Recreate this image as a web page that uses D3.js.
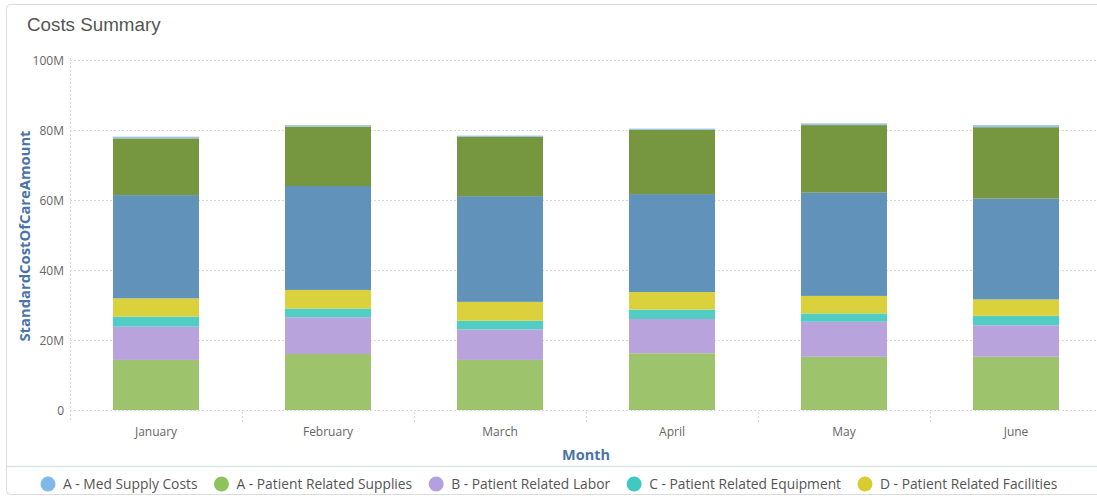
<!DOCTYPE html>
<html>
<head>
<meta charset="utf-8">
<script src="https://cdn.jsdelivr.net/npm/d3@7"></script>
<style>
  html, body { margin: 0; padding: 0; background: #fff; }
  svg { display: block; }
</style>
</head>
<body>
<svg id="chart" width="1097" height="498"></svg>
<script>
// ---- Data (values in millions) ----
const months = ["January", "February", "March", "April", "May", "June"];
const patientRelatedSupplies = [14.3, 16.0, 14.3, 16.2, 15.2, 15.2];
const patientRelatedLabor    = [9.5, 10.5, 8.7, 9.8, 10.0, 9.0];
const patientRelatedEquipment= [2.9, 2.5, 2.5, 2.7, 2.4, 2.7];
const patientRelatedFacilities=[5.2, 5.3, 5.4, 5.0, 5.0, 4.7];
const otherCostsBlue         = [29.5, 29.7, 30.2, 28.0, 29.5, 28.8];
const otherCostsGreen        = [16.2, 17.0, 16.9, 18.3, 19.3, 20.4];
const medSupplyCosts         = [0.5, 0.4, 0.4, 0.4, 0.5, 0.6];
const yTicks = [0, 20, 40, 60, 80, 100];
const yTickLabels = ["0", "20M", "40M", "60M", "80M", "100M"];

const series = [
  { name: "A - Patient Related Supplies", values: patientRelatedSupplies, color: "#9dc46c", legend: "#8ec25c" },
  { name: "B - Patient Related Labor", values: patientRelatedLabor, color: "#b9a3dd", legend: "#b49fe0" },
  { name: "C - Patient Related Equipment", values: patientRelatedEquipment, color: "#52cdc3", legend: "#3fc9c0" },
  { name: "D - Patient Related Facilities", values: patientRelatedFacilities, color: "#dbd13c", legend: "#d8cc30" },
  { name: "Other Costs (blue)", values: otherCostsBlue, color: "#6092ba", legend: null },
  { name: "Other Costs (green)", values: otherCostsGreen, color: "#76963f", legend: null },
  { name: "A - Med Supply Costs", values: medSupplyCosts, color: "#9cc6e3", legend: "#80b9e8" }
];
const legendOrder = ["A - Med Supply Costs", "A - Patient Related Supplies", "B - Patient Related Labor",
                     "C - Patient Related Equipment", "D - Patient Related Facilities"];

// ---- Build table ----
const rows = months.map((m, i) => {
  const r = { month: m };
  series.forEach(s => r[s.name] = s.values[i]);
  return r;
});
const stack = d3.stack().keys(series.map(s => s.name))(rows);

const svg = d3.select("#chart");
const W = 1097, H = 498;

// card
svg.append("rect").attr("x", 6.5).attr("y", 4.5).attr("width", 1200).attr("height", 490)
  .attr("rx", 4).attr("fill", "#fff").attr("stroke", "#dcdcdc");
svg.append("line").attr("x1", 7).attr("x2", W).attr("y1", 466.5).attr("y2", 466.5)
  .attr("stroke", "#dfe6e1").attr("stroke-width", 1.5);

// title
svg.append("text").attr("x", 27).attr("y", 31).text("Costs Summary")
  .attr("font-family", "Liberation Sans, Arial, sans-serif").attr("font-size", 18.8).attr("fill", "#555");

const x = d3.scaleBand().domain(months).range([70, 1102]).paddingInner(0.5).paddingOuter(0.25);
const y = d3.scaleLinear().domain([0, 100]).range([410, 60]);

// gridlines
svg.append("g").selectAll("line").data(yTicks).join("line")
  .attr("x1", 70).attr("x2", W).attr("y1", d => Math.round(y(d)) + 0.5).attr("y2", d => Math.round(y(d)) + 0.5)
  .attr("stroke", "#d8d8d8").attr("stroke-dasharray", "2,2");
// y axis line
svg.append("line").attr("x1", 70.5).attr("x2", 70.5).attr("y1", 58).attr("y2", 422)
  .attr("stroke", "#d8d8d8").attr("stroke-dasharray", "2,2");

// y tick labels
const yAxis = d3.axisLeft(y).tickValues(yTicks).tickFormat((d, i) => yTickLabels[i]).tickSize(0).tickPadding(6);
const gy = svg.append("g").attr("transform", "translate(70,0)").call(yAxis);
gy.select(".domain").remove();
gy.selectAll("text").attr("font-family", "Open Sans, sans-serif").attr("font-size", 12).attr("fill", "#666")
  .attr("dy", "0.4em");

// x axis
const xAxis = d3.axisBottom(x).tickSize(0).tickPadding(17);
const gx = svg.append("g").attr("transform", "translate(0,410)").call(xAxis);
gx.select(".domain").remove();
gx.selectAll("text").attr("font-family", "Open Sans, sans-serif").attr("font-size", 12).attr("fill", "#666");
// category separators
const step = x.step();
svg.append("g").selectAll("line").data(months.slice(1)).join("line")
  .attr("x1", d => Math.round(x(d) - step * 0.25) + 0.5).attr("x2", d => Math.round(x(d) - step * 0.25) + 0.5)
  .attr("y1", 412).attr("y2", 422).attr("stroke", "#d8d8d8").attr("stroke-dasharray", "2,2");

// bars
const colorOf = Object.fromEntries(series.map(s => [s.name, s.color]));
svg.append("g").selectAll("g").data(stack).join("g")
  .attr("fill", d => colorOf[d.key])
  .selectAll("rect").data(d => d).join("rect")
  .attr("x", d => x(d.data.month))
  .attr("width", x.bandwidth())
  .attr("y", d => y(d[1]))
  .attr("height", d => y(d[0]) - y(d[1]));

// axis titles
svg.append("text").attr("transform", "translate(30,236) rotate(-90)").attr("text-anchor", "middle")
  .text("StandardCostOfCareAmount").attr("font-family", "Open Sans, sans-serif").attr("font-weight", "bold")
  .attr("font-size", 14.8).attr("fill", "#4a73a8");
svg.append("text").attr("x", 586).attr("y", 460).attr("text-anchor", "middle")
  .text("Month").attr("font-family", "Open Sans, sans-serif").attr("font-weight", "bold")
  .attr("font-size", 14.5).attr("fill", "#4a73a8");

// legend
const lg = svg.append("g");
let lx = 48;
legendOrder.forEach(name => {
  const s = series.find(t => t.name === name);
  lg.append("circle").attr("cx", lx).attr("cy", 484).attr("r", 7.5).attr("fill", s.legend);
  const t = lg.append("text").attr("x", lx + 15).attr("y", 489).text(name)
    .attr("font-family", "Open Sans, sans-serif").attr("font-size", 13.8).attr("fill", "#555");
  lx += 15 + t.node().getComputedTextLength() + 24;
});
</script>
</body>
</html>
